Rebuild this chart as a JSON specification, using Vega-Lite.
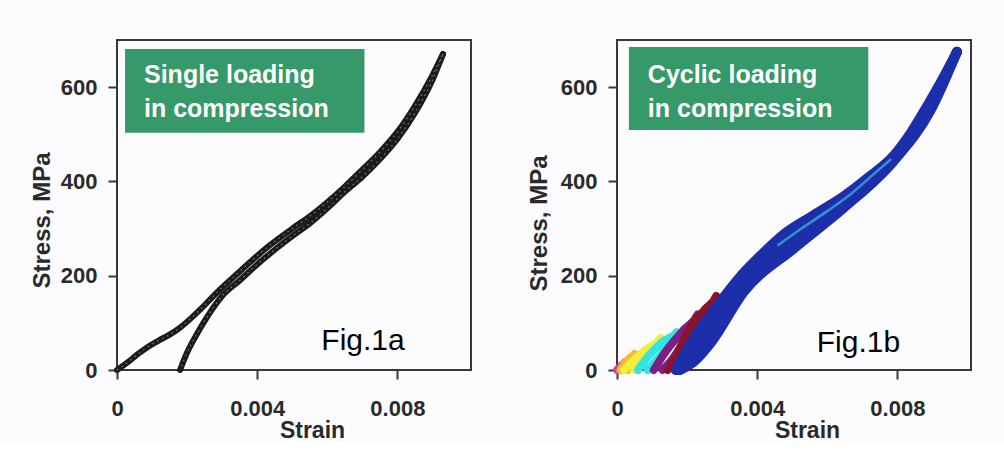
{
  "$schema": "https://vega.github.io/schema/vega-lite/v6.json",
  "background": "#fcfcfe",
  "padding": {"left": 29, "top": 39, "right": 33, "bottom": 0},
  "bounds": "flush",
  "spacing": 146,
  "config": {
    "view": {"stroke": "#383838", "strokeWidth": 2},
    "axis": {
      "domain": false, "grid": false, "tickColor": "#383838", "tickWidth": 2, "tickSize": 9,
      "labelFont": "Liberation Sans", "labelFontWeight": "bold", "labelFontSize": 22, "labelColor": "#2a2a2a",
      "labelFlush": false, "labelOverlap": false,
      "titleFont": "Liberation Sans", "titleFontWeight": "bold", "titleFontSize": 23, "titleColor": "#2a2a2a"
    },
    "axisX": {"labelPadding": 19, "titleAlign": "center", "titleX": 195, "titleY": 67, "titleBaseline": "alphabetic"},
    "axisY": {"labelPadding": 11, "titleAngle": 270, "titleAlign": "center", "titleX": -68, "titleY": 180, "titleBaseline": "alphabetic", "titleFontSize": 24}
  },
  "datasets": {
    "single": [
      {"path": "loading", "i": 0, "strain": 0, "stress": 0},
      {"path": "loading", "i": 1, "strain": 0.0003, "stress": 16},
      {"path": "loading", "i": 2, "strain": 0.0006, "stress": 34},
      {"path": "loading", "i": 3, "strain": 0.0009, "stress": 50},
      {"path": "loading", "i": 4, "strain": 0.0012, "stress": 63},
      {"path": "loading", "i": 5, "strain": 0.0015, "stress": 75},
      {"path": "loading", "i": 6, "strain": 0.0018, "stress": 90},
      {"path": "loading", "i": 7, "strain": 0.0021, "stress": 109},
      {"path": "loading", "i": 8, "strain": 0.0024, "stress": 130},
      {"path": "loading", "i": 9, "strain": 0.0027, "stress": 153},
      {"path": "loading", "i": 10, "strain": 0.003, "stress": 175},
      {"path": "loading", "i": 11, "strain": 0.0034, "stress": 202},
      {"path": "loading", "i": 12, "strain": 0.0038, "stress": 229},
      {"path": "loading", "i": 13, "strain": 0.0042, "stress": 255},
      {"path": "loading", "i": 14, "strain": 0.0046, "stress": 278},
      {"path": "loading", "i": 15, "strain": 0.005, "stress": 300},
      {"path": "loading", "i": 16, "strain": 0.0055, "stress": 326},
      {"path": "loading", "i": 17, "strain": 0.006, "stress": 356},
      {"path": "loading", "i": 18, "strain": 0.0065, "stress": 389},
      {"path": "loading", "i": 19, "strain": 0.007, "stress": 425},
      {"path": "loading", "i": 20, "strain": 0.0075, "stress": 462},
      {"path": "loading", "i": 21, "strain": 0.008, "stress": 505},
      {"path": "loading", "i": 22, "strain": 0.0085, "stress": 560},
      {"path": "loading", "i": 23, "strain": 0.009, "stress": 625},
      {"path": "loading", "i": 24, "strain": 0.0093, "stress": 670},
      {"path": "unloading", "i": 0, "strain": 0.0093, "stress": 670},
      {"path": "unloading", "i": 1, "strain": 0.009, "stress": 615},
      {"path": "unloading", "i": 2, "strain": 0.0085, "stress": 545},
      {"path": "unloading", "i": 3, "strain": 0.008, "stress": 490},
      {"path": "unloading", "i": 4, "strain": 0.0075, "stress": 447},
      {"path": "unloading", "i": 5, "strain": 0.007, "stress": 410},
      {"path": "unloading", "i": 6, "strain": 0.0065, "stress": 378},
      {"path": "unloading", "i": 7, "strain": 0.006, "stress": 343},
      {"path": "unloading", "i": 8, "strain": 0.0055, "stress": 311},
      {"path": "unloading", "i": 9, "strain": 0.005, "stress": 284},
      {"path": "unloading", "i": 10, "strain": 0.0045, "stress": 255},
      {"path": "unloading", "i": 11, "strain": 0.004, "stress": 224},
      {"path": "unloading", "i": 12, "strain": 0.0035, "stress": 190},
      {"path": "unloading", "i": 13, "strain": 0.003, "stress": 157},
      {"path": "unloading", "i": 14, "strain": 0.0026, "stress": 116},
      {"path": "unloading", "i": 15, "strain": 0.0023, "stress": 79},
      {"path": "unloading", "i": 16, "strain": 0.002, "stress": 37},
      {"path": "unloading", "i": 17, "strain": 0.0018, "stress": 0}
    ],
    "cyclic": [
      {"cycle": "c1", "path": "c1", "i": 0, "strain": 0, "stress": 0},
      {"cycle": "c1", "path": "c1", "i": 1, "strain": 0.0001, "stress": 8},
      {"cycle": "c1", "path": "c1", "i": 2, "strain": 0.00022, "stress": 16},
      {"cycle": "c1", "path": "c1", "i": 3, "strain": 0.00016, "stress": 6},
      {"cycle": "c1", "path": "c1", "i": 4, "strain": 0.0001, "stress": 0},
      {"cycle": "c2", "path": "c2", "i": 0, "strain": 0.0001, "stress": 0},
      {"cycle": "c2", "path": "c2", "i": 1, "strain": 0.0002, "stress": 12},
      {"cycle": "c2", "path": "c2", "i": 2, "strain": 0.00035, "stress": 24},
      {"cycle": "c2", "path": "c2", "i": 3, "strain": 0.0005, "stress": 34},
      {"cycle": "c2", "path": "c2", "i": 4, "strain": 0.00042, "stress": 18},
      {"cycle": "c2", "path": "c2", "i": 5, "strain": 0.0003, "stress": 0},
      {"cycle": "c3", "path": "c3", "i": 0, "strain": 0.0002, "stress": 0},
      {"cycle": "c3", "path": "c3", "i": 1, "strain": 0.0005, "stress": 22},
      {"cycle": "c3", "path": "c3", "i": 2, "strain": 0.0008, "stress": 42},
      {"cycle": "c3", "path": "c3", "i": 3, "strain": 0.00125, "stress": 68},
      {"cycle": "c3", "path": "c3", "i": 4, "strain": 0.001, "stress": 48},
      {"cycle": "c3", "path": "c3", "i": 5, "strain": 0.0008, "stress": 28},
      {"cycle": "c3", "path": "c3", "i": 6, "strain": 0.0005, "stress": 0},
      {"cycle": "c4", "path": "c4", "i": 0, "strain": 0.0006, "stress": 0},
      {"cycle": "c4", "path": "c4", "i": 1, "strain": 0.0009, "stress": 30},
      {"cycle": "c4", "path": "c4", "i": 2, "strain": 0.0013, "stress": 60},
      {"cycle": "c4", "path": "c4", "i": 3, "strain": 0.0017, "stress": 80},
      {"cycle": "c4", "path": "c4", "i": 4, "strain": 0.0015, "stress": 56},
      {"cycle": "c4", "path": "c4", "i": 5, "strain": 0.0012, "stress": 28},
      {"cycle": "c4", "path": "c4", "i": 6, "strain": 0.00088, "stress": 0},
      {"cycle": "c5", "path": "c5", "i": 0, "strain": 0.00105, "stress": 0},
      {"cycle": "c5", "path": "c5", "i": 1, "strain": 0.0014, "stress": 40},
      {"cycle": "c5", "path": "c5", "i": 2, "strain": 0.0019, "stress": 85},
      {"cycle": "c5", "path": "c5", "i": 3, "strain": 0.0023, "stress": 118},
      {"cycle": "c5", "path": "c5", "i": 4, "strain": 0.002, "stress": 75},
      {"cycle": "c5", "path": "c5", "i": 5, "strain": 0.0016, "stress": 25},
      {"cycle": "c5", "path": "c5", "i": 6, "strain": 0.0013, "stress": 0},
      {"cycle": "c6", "path": "c6", "i": 0, "strain": 0.00145, "stress": 0},
      {"cycle": "c6", "path": "c6", "i": 1, "strain": 0.0018, "stress": 45},
      {"cycle": "c6", "path": "c6", "i": 2, "strain": 0.00205, "stress": 85},
      {"cycle": "c6", "path": "c6", "i": 3, "strain": 0.0025, "stress": 128},
      {"cycle": "c6", "path": "c6", "i": 4, "strain": 0.00283, "stress": 157},
      {"cycle": "c6", "path": "c6", "i": 5, "strain": 0.0026, "stress": 120},
      {"cycle": "c6", "path": "c6", "i": 6, "strain": 0.0022, "stress": 60},
      {"cycle": "c6", "path": "c6", "i": 7, "strain": 0.0019, "stress": 15},
      {"cycle": "c6", "path": "c6", "i": 8, "strain": 0.00165, "stress": 0},
      {"cycle": "c8", "path": "L", "i": 0, "strain": 0.00168, "stress": 0},
      {"cycle": "c8", "path": "L", "i": 1, "strain": 0.0022, "stress": 70},
      {"cycle": "c8", "path": "L", "i": 2, "strain": 0.0029, "stress": 140},
      {"cycle": "c8", "path": "L", "i": 3, "strain": 0.0036, "stress": 205},
      {"cycle": "c8", "path": "L", "i": 4, "strain": 0.0042, "stress": 250},
      {"cycle": "c8", "path": "L", "i": 5, "strain": 0.0048, "stress": 290},
      {"cycle": "c8", "path": "L", "i": 6, "strain": 0.0056, "stress": 328},
      {"cycle": "c8", "path": "L", "i": 7, "strain": 0.0065, "stress": 370},
      {"cycle": "c8", "path": "L", "i": 8, "strain": 0.0072, "stress": 410},
      {"cycle": "c8", "path": "L", "i": 9, "strain": 0.0079, "stress": 455},
      {"cycle": "c8", "path": "L", "i": 10, "strain": 0.0084, "stress": 505},
      {"cycle": "c8", "path": "L", "i": 11, "strain": 0.00885, "stress": 560},
      {"cycle": "c8", "path": "L", "i": 12, "strain": 0.0092, "stress": 605},
      {"cycle": "c8", "path": "L", "i": 13, "strain": 0.0097, "stress": 675},
      {"cycle": "c8", "path": "M", "i": 0, "strain": 0.00174, "stress": 0},
      {"cycle": "c8", "path": "M", "i": 1, "strain": 0.0022, "stress": 45},
      {"cycle": "c8", "path": "M", "i": 2, "strain": 0.0029, "stress": 111},
      {"cycle": "c8", "path": "M", "i": 3, "strain": 0.0036, "stress": 184},
      {"cycle": "c8", "path": "M", "i": 4, "strain": 0.0042, "stress": 226},
      {"cycle": "c8", "path": "M", "i": 5, "strain": 0.0048, "stress": 266},
      {"cycle": "c8", "path": "M", "i": 6, "strain": 0.0056, "stress": 310},
      {"cycle": "c8", "path": "M", "i": 7, "strain": 0.0065, "stress": 357},
      {"cycle": "c8", "path": "M", "i": 8, "strain": 0.0072, "stress": 402},
      {"cycle": "c8", "path": "M", "i": 9, "strain": 0.0079, "stress": 449},
      {"cycle": "c8", "path": "M", "i": 10, "strain": 0.0084, "stress": 500},
      {"cycle": "c8", "path": "M", "i": 11, "strain": 0.0092, "stress": 599},
      {"cycle": "c8", "path": "M", "i": 12, "strain": 0.0097, "stress": 675},
      {"cycle": "c8", "path": "U", "i": 0, "strain": 0.0097, "stress": 675},
      {"cycle": "c8", "path": "U", "i": 1, "strain": 0.00894, "stress": 550},
      {"cycle": "c8", "path": "U", "i": 2, "strain": 0.00789, "stress": 443},
      {"cycle": "c8", "path": "U", "i": 3, "strain": 0.00647, "stress": 344},
      {"cycle": "c8", "path": "U", "i": 4, "strain": 0.00505, "stress": 258},
      {"cycle": "c8", "path": "U", "i": 5, "strain": 0.00362, "stress": 166},
      {"cycle": "c8", "path": "U", "i": 6, "strain": 0.00268, "stress": 58},
      {"cycle": "c8", "path": "U", "i": 7, "strain": 0.0022, "stress": 18},
      {"cycle": "c8", "path": "U", "i": 8, "strain": 0.0018, "stress": 0},
      {"cycle": "c7", "path": "c7", "i": 0, "strain": 0.0046, "stress": 265},
      {"cycle": "c7", "path": "c7", "i": 1, "strain": 0.0052, "stress": 297},
      {"cycle": "c7", "path": "c7", "i": 2, "strain": 0.006, "stress": 337},
      {"cycle": "c7", "path": "c7", "i": 3, "strain": 0.0067, "stress": 375},
      {"cycle": "c7", "path": "c7", "i": 4, "strain": 0.0073, "stress": 414},
      {"cycle": "c7", "path": "c7", "i": 5, "strain": 0.0078, "stress": 446}
    ]
  },
  "hconcat": [
    {
      "width": 354,
      "height": 330,
      "layer": [
        {
          "data": {"values": [{}]},
          "mark": {"type": "rect", "color": "#36996a"},
          "encoding": {"x": {"datum": 0.00023}, "x2": {"datum": 0.00706}, "y": {"datum": 681}, "y2": {"datum": 503}}
        },
        {
          "data": {"name": "single"},
          "mark": {"type": "line", "color": "#1b1b1b", "strokeWidth": 6, "strokeCap": "round", "strokeJoin": "round", "interpolate": "monotone"},
          "encoding": {
            "x": {"field": "strain", "type": "quantitative", "scale": {"domain": [0, 0.0101], "nice": false, "zero": false},
                  "axis": {"title": "Strain", "values": [0, 0.004, 0.008], "format": ".3~f"}},
            "y": {"field": "stress", "type": "quantitative", "scale": {"domain": [0, 700], "nice": false},
                  "axis": {"title": "Stress, MPa", "values": [0, 200, 400, 600]}},
            "detail": {"field": "path", "type": "nominal"},
            "order": {"field": "i", "type": "quantitative"}
          }
        },
        {
          "data": {"name": "single"},
          "mark": {"type": "line", "color": "white", "strokeWidth": 1.2, "strokeDash": [1.5, 4], "opacity": 0.45, "interpolate": "monotone"},
          "encoding": {
            "x": {"field": "strain", "type": "quantitative"},
            "y": {"field": "stress", "type": "quantitative"},
            "detail": {"field": "path", "type": "nominal"},
            "order": {"field": "i", "type": "quantitative"}
          }
        },
        {
          "data": {"values": [{}]},
          "mark": {"type": "text", "text": ["Single loading", "in compression"], "font": "Liberation Sans", "fontWeight": "bold", "fontSize": 25, "color": "white", "align": "left", "baseline": "alphabetic", "lineHeight": 34},
          "encoding": {"x": {"datum": 0.00077}, "y": {"datum": 609}}
        },
        {
          "data": {"values": [{}]},
          "mark": {"type": "text", "text": "Fig.1a", "font": "Liberation Sans", "fontSize": 30, "color": "black", "align": "left", "baseline": "alphabetic"},
          "encoding": {"x": {"datum": 0.00583}, "y": {"datum": 42}}
        }
      ]
    },
    {
      "width": 354,
      "height": 330,
      "layer": [
        {
          "data": {"values": [{}]},
          "mark": {"type": "rect", "color": "#36996a"},
          "encoding": {"x": {"datum": 0.00034}, "x2": {"datum": 0.00717}, "y": {"datum": 685}, "y2": {"datum": 509}}
        },
        {
          "data": {"name": "cyclic"},
          "transform": [{"filter": "datum.cycle != 'c8' && datum.cycle != 'c7'"}],
          "mark": {"type": "line", "strokeWidth": 8, "strokeCap": "round", "strokeJoin": "round", "interpolate": "monotone"},
          "encoding": {
            "x": {"field": "strain", "type": "quantitative", "scale": {"domain": [0, 0.0101], "nice": false, "zero": false},
                  "axis": {"title": "Strain", "values": [0, 0.004, 0.008], "format": ".3~f", "titleX": 190}},
            "y": {"field": "stress", "type": "quantitative", "scale": {"domain": [0, 700], "nice": false},
                  "axis": {"title": "Stress, MPa", "values": [0, 200, 400, 600], "titleX": -71, "titleY": 183}},
            "color": {"field": "cycle", "type": "nominal", "legend": null,
                      "scale": {"domain": ["c1", "c2", "c3", "c4", "c5", "c6"], "range": ["#d93fa6", "#f6b733", "#f2ee3c", "#35e3e3", "#7c2084", "#8c1426"]}},
            "detail": {"field": "path", "type": "nominal"},
            "order": {"field": "i", "type": "quantitative"}
          }
        },
        {
          "data": {"name": "cyclic"},
          "transform": [{"filter": "datum.cycle == 'c8'"}],
          "mark": {"type": "line", "color": "#1d2eab", "strokeWidth": 10, "strokeCap": "round", "strokeJoin": "round", "interpolate": "monotone"},
          "encoding": {
            "x": {"field": "strain", "type": "quantitative"},
            "y": {"field": "stress", "type": "quantitative"},
            "detail": {"field": "path", "type": "nominal"},
            "order": {"field": "i", "type": "quantitative"}
          }
        },
        {
          "data": {"name": "cyclic"},
          "transform": [{"filter": "datum.cycle == 'c7'"}],
          "mark": {"type": "line", "color": "#3ec6e2", "strokeWidth": 2.5, "opacity": 0.65, "strokeCap": "round", "interpolate": "monotone"},
          "encoding": {
            "x": {"field": "strain", "type": "quantitative"},
            "y": {"field": "stress", "type": "quantitative"},
            "order": {"field": "i", "type": "quantitative"}
          }
        },
        {
          "data": {"values": [{}]},
          "mark": {"type": "text", "text": ["Cyclic loading", "in compression"], "font": "Liberation Sans", "fontWeight": "bold", "fontSize": 25, "color": "white", "align": "left", "baseline": "alphabetic", "lineHeight": 34},
          "encoding": {"x": {"datum": 0.00088}, "y": {"datum": 609}}
        },
        {
          "data": {"values": [{}]},
          "mark": {"type": "text", "text": "Fig.1b", "font": "Liberation Sans", "fontSize": 30, "color": "black", "align": "left", "baseline": "alphabetic"},
          "encoding": {"x": {"datum": 0.0057}, "y": {"datum": 38}}
        }
      ]
    }
  ]
}
